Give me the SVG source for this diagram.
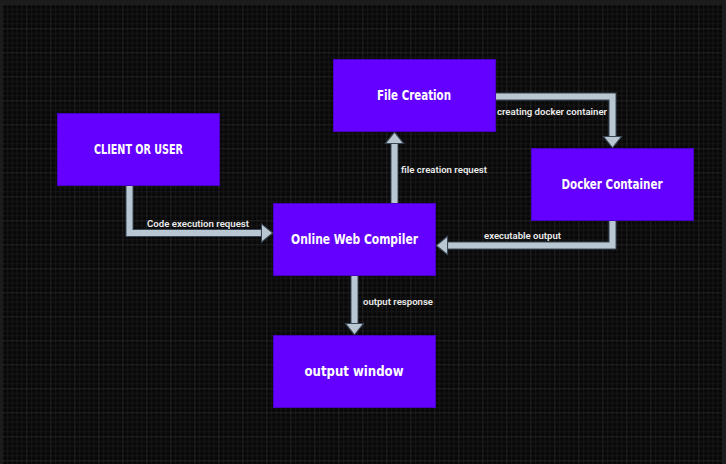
<svg xmlns="http://www.w3.org/2000/svg" width="726" height="464" viewBox="0 0 726 464">
<style>
.node rect{fill:#6300ff;stroke:#4800c4;stroke-width:1}
.node text{fill:#ffffff;font-family:"DejaVu Sans Condensed","DejaVu Sans",sans-serif;font-weight:bold;font-size:14px;text-anchor:middle}
.eo{fill:none;stroke:#3a4654;stroke-width:8;stroke-linejoin:miter;stroke-linecap:butt}
.ei{fill:none;stroke:#b9c7d3;stroke-width:6;stroke-linejoin:miter;stroke-linecap:butt}
.lbl{fill:#ececec;font-family:Roboto,"Liberation Sans",sans-serif;font-weight:600;font-size:9px}
</style>
<defs>
<pattern id="grid" x="26.3" y="28.3" width="24" height="24" patternUnits="userSpaceOnUse">
<rect width="24" height="24" fill="#080808"/>
<g fill="#1a1a1a">
<rect x="4.8" y="0" width="0.8" height="24"/>
<rect x="9.6" y="0" width="0.8" height="24"/>
<rect x="14.4" y="0" width="0.8" height="24"/>
<rect x="19.2" y="0" width="0.8" height="24"/>
<rect x="0" y="4.8" width="24" height="0.8"/>
<rect x="0" y="9.6" width="24" height="0.8"/>
<rect x="0" y="14.4" width="24" height="0.8"/>
<rect x="0" y="19.2" width="24" height="0.8"/>
</g>
<g fill="#3a3a3a">
<rect x="-0.5" y="0" width="1" height="24"/>
<rect x="0" y="-0.5" width="24" height="1"/>
</g>
</pattern>
<marker id="ah" markerUnits="userSpaceOnUse" markerWidth="14" markerHeight="22" viewBox="-1 -1 13 20" refX="0.5" refY="8.5" orient="auto" overflow="visible">
<path d="M0,0 L10.5,8.5 L0,17 Z" fill="#b9c7d3" stroke="#3a4654" stroke-width="1"/>
</marker>
</defs>
<rect x="0" y="0" width="726" height="464" fill="#1c1c1c"/>
<rect x="2" y="4" width="720" height="460" fill="url(#grid)"/>
<g id="connectors">
<path class="eo" d="M129.5,185 V233 H262"/>
<path class="ei" d="M129.5,185 V233 H262" marker-end="url(#ah)"/>
<path class="eo" d="M394.5,203 V143"/>
<path class="ei" d="M394.5,203 V143" marker-end="url(#ah)"/>
<path class="eo" d="M495,96.5 H612.5 V137"/>
<path class="ei" d="M495,96.5 H612.5 V137" marker-end="url(#ah)"/>
<path class="eo" d="M612.5,220.5 V245.5 H447"/>
<path class="ei" d="M612.5,220.5 V245.5 H447" marker-end="url(#ah)"/>
<path class="eo" d="M354.5,275 V324"/>
<path class="ei" d="M354.5,275 V324" marker-end="url(#ah)"/>
<text class="lbl" x="147" y="226.5" textLength="102" lengthAdjust="spacingAndGlyphs">Code execution request</text>
<text class="lbl" x="401" y="173" textLength="86" lengthAdjust="spacingAndGlyphs">file creation request</text>
<text class="lbl" x="497" y="115" textLength="110" lengthAdjust="spacingAndGlyphs">creating docker container</text>
<text class="lbl" x="484" y="239" textLength="77" lengthAdjust="spacingAndGlyphs">executable output</text>
<text class="lbl" x="363" y="305" textLength="70" lengthAdjust="spacingAndGlyphs">output response</text>
</g>
<g id="client" class="node">
<rect x="57.5" y="113.5" width="162" height="72"/>
<text x="138.5" y="154" textLength="89" lengthAdjust="spacingAndGlyphs">CLIENT OR USER</text>
</g>
<g id="compiler" class="node">
<rect x="273.5" y="203.5" width="162" height="72"/>
<text x="354.5" y="244" textLength="127" lengthAdjust="spacingAndGlyphs">Online Web Compiler</text>
</g>
<g id="filecreation" class="node">
<rect x="333.5" y="59.5" width="162" height="72"/>
<text x="414" y="100" textLength="74" lengthAdjust="spacingAndGlyphs">File Creation</text>
</g>
<g id="docker" class="node">
<rect x="531.5" y="148.5" width="162" height="72"/>
<text x="612" y="189" textLength="101" lengthAdjust="spacingAndGlyphs">Docker Container</text>
</g>
<g id="output" class="node">
<rect x="273.5" y="335.5" width="162" height="72"/>
<text x="354" y="376" textLength="99" lengthAdjust="spacingAndGlyphs">output window</text>
</g>
</svg>
